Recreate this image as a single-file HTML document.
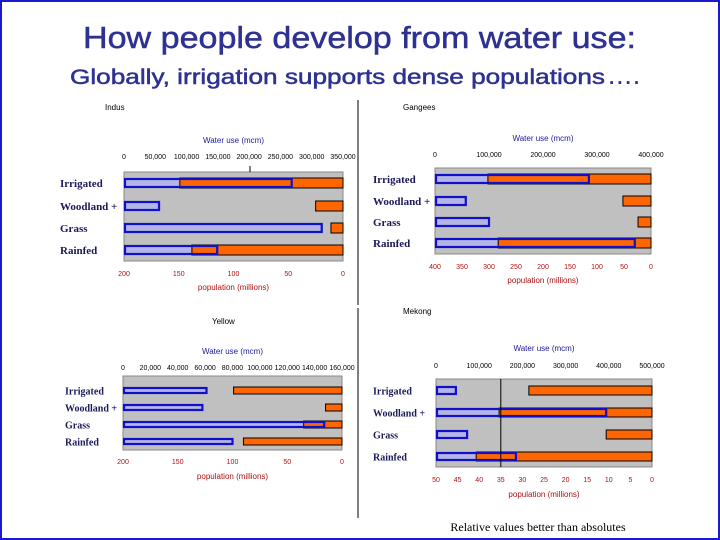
<!DOCTYPE html>
<html><head><meta charset="utf-8"><style>
body{margin:0;background:#fff}
#wrap{position:relative;width:720px;height:540px;overflow:hidden}
svg text{font-family:"Liberation Sans",sans-serif}
</style></head><body>
<div id="wrap">
<svg id="s" width="720" height="540" xmlns="http://www.w3.org/2000/svg">
<rect x="1" y="1" width="718" height="538" fill="none" stroke="#1a1ad0" stroke-width="2"/>
<text x="83" y="48" textLength="553" lengthAdjust="spacingAndGlyphs" font-size="31" fill="#2e3192" stroke="#2e3192" stroke-width="0.5">How people develop from water use:</text>
<text x="70" y="84" textLength="535" lengthAdjust="spacingAndGlyphs" font-size="21" fill="#2e3192" stroke="#2e3192" stroke-width="0.5">Globally, irrigation supports dense populations</text>
<text x="609" y="84" font-size="19" font-weight="bold" letter-spacing="3" fill="#2e3192">....</text>
<line x1="358" y1="100" x2="358" y2="305" stroke="#000"/>
<line x1="358" y1="308" x2="358" y2="518" stroke="#000"/>
<text x="538" y="531" text-anchor="middle" font-size="12" style="font-family:'Liberation Serif',serif" fill="#000">Relative values better than absolutes</text>
</svg>
</div>
<script>
const categories = ["Irrigated","Woodland +","Grass","Rainfed"];
const indusWater = [268000,56000,316000,149000];
const indusPop = [149,25,11,138];
const indusWaterTicks = ["0","50,000","100,000","150,000","200,000","250,000","300,000","350,000"];
const indusPopTicks = ["200","150","100","50","0"];
const gangesWater = [285000,57000,100000,370000];
const gangesPop = [302,52,24,283];
const gangesWaterTicks = ["0","100,000","200,000","300,000","400,000"];
const gangesPopTicks = ["400","350","300","250","200","150","100","50","0"];
const yellowWater = [61000,58000,147000,80000];
const yellowPop = [99,15,35,90];
const yellowWaterTicks = ["0","20,000","40,000","60,000","80,000","100,000","120,000","140,000","160,000"];
const yellowPopTicks = ["200","150","100","50","0"];
const mekongWater = [46000,394000,72000,185000];
const mekongPop = [28.5,35.4,10.6,40.7];
const mekongWaterTicks = ["0","100,000","200,000","300,000","400,000","500,000"];
const mekongPopTicks = ["50","45","40","35","30","25","20","15","10","5","0"];

const NS="http://www.w3.org/2000/svg";
const svg=document.getElementById('s');
function mk(tag,attrs,txt){const e=document.createElementNS(NS,tag);for(const k in attrs)e.setAttribute(k,attrs[k]);if(txt!==undefined)e.textContent=txt;svg.appendChild(e);return e;}

function panel(p){
  const {name,x0,x1,y0,y1,rows,bh,water,pop,wt,pt,wMax,pMax,labX,labSize,nameX,nameY,wTickY,wTitleY,pTickY,pTitleY}=p;
  const wx=v=>x0+v/wMax*(x1-x0);
  const px=v=>x1-v/pMax*(x1-x0);
  let e=mk('text',{x:nameX,y:nameY,'font-size':8,fill:'#000'},name);
  
  
  e=mk('text',{x:(x0+x1)/2,y:wTitleY,'text-anchor':'middle','font-size':8,fill:'#1a1a9a'},'Water use (mcm)');
  
  
  wt.forEach((t,i)=>{const x=x0+i/(wt.length-1)*(x1-x0);
    const el=mk('text',{x:x,y:wTickY,'text-anchor':'middle','font-size':7,fill:'#000'},t);
    
    });
  e=mk('rect',{x:x0,y:y0,width:x1-x0,height:y1-y0,fill:'#c0c0c0',stroke:'#888','stroke-width':1});
  
  
  categories.forEach((c,i)=>{
    const y=rows[i];
    const b=mk('rect',{x:x0+1,y:y+1,width:wx(water[i])-x0-1,height:bh-2,fill:'#b4b4e6',stroke:'none'});
    
    
    const o=mk('rect',{x:px(pop[i]),y:y,width:x1-px(pop[i]),height:bh,fill:'#ff6600',stroke:'#000','stroke-width':1});
    
    
    const bo=mk('rect',{x:x0+1,y:y+1,width:wx(water[i])-x0-1,height:bh-2,fill:'none',stroke:'#1010c8','stroke-width':2.2});
    
    
    const l=mk('text',{x:labX,y:y+bh/2+4,'font-size':labSize,'font-weight':'bold',fill:'#1a1a5a',style:"font-family:'Liberation Serif',serif"},c);
    
    
  });
  pt.forEach((t,i)=>{const x=x0+i/(pt.length-1)*(x1-x0);
    const el=mk('text',{x:x,y:pTickY,'text-anchor':'middle','font-size':7,fill:'#b01010'},t);
    
    });
  e=mk('text',{x:(x0+x1)/2,y:pTitleY,'text-anchor':'middle','font-size':8,fill:'#b01010'},'population (millions)');
  
  
  return {px};
}
panel({name:'Indus',x0:124,x1:343,y0:172,y1:261,rows:[178,201,223,245],bh:10,water:indusWater,pop:indusPop,wt:indusWaterTicks,pt:indusPopTicks,wMax:350000,pMax:200,labX:60,labSize:11,nameX:105,nameY:110,wTickY:159,wTitleY:143,pTickY:276,pTitleY:290});
const tk=mk('line',{x1:250,y1:166,x2:250,y2:172,stroke:'#000'});


panel({name:'Gangees',x0:435,x1:651,y0:168,y1:254,rows:[174,196,217,238],bh:10,water:gangesWater,pop:gangesPop,wt:gangesWaterTicks,pt:gangesPopTicks,wMax:400000,pMax:400,labX:373,labSize:11,nameX:403,nameY:110,wTickY:157,wTitleY:141,pTickY:269,pTitleY:283});
panel({name:'Yellow',x0:123,x1:342,y0:376,y1:450,rows:[387,404,421,438],bh:7,water:yellowWater,pop:yellowPop,wt:yellowWaterTicks,pt:yellowPopTicks,wMax:160000,pMax:200,labX:65,labSize:10,nameX:212,nameY:324,wTickY:370,wTitleY:354,pTickY:464,pTitleY:479});
const mk2=panel({name:'Mekong',x0:436,x1:652,y0:379,y1:467,rows:[386,408,430,452],bh:9,water:mekongWater,pop:mekongPop,wt:mekongWaterTicks,pt:mekongPopTicks,wMax:500000,pMax:50,labX:373,labSize:10,nameX:403,nameY:314,wTickY:368,wTitleY:351,pTickY:482,pTitleY:497});
const ref=mk('line',{x1:mk2.px(35),y1:379,x2:mk2.px(35),y2:467,stroke:'#000','stroke-width':1});


</script>
</body></html>
